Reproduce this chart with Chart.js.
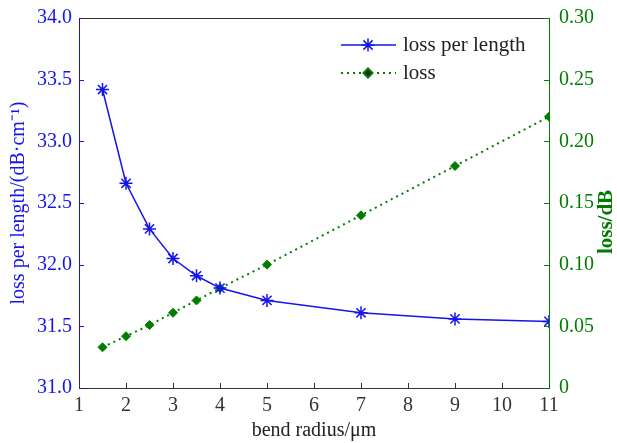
<!DOCTYPE html>
<html>
<head>
<meta charset="utf-8">
<script src="https://cdn.jsdelivr.net/npm/chart.js@4/dist/chart.umd.min.js"></script>
<style>
  html, body { margin: 0; padding: 0; background: #fff; }
  #wrap { width: 617px; height: 443px; }
</style>
</head>
<body>
<div id="wrap"><canvas id="bend-chart"></canvas></div>
<script>
const bendRadius = [1.5, 2, 2.5, 3, 3.5, 4, 5, 7, 9, 11]
const lossPerLength = [33.42, 32.66, 32.29, 32.05, 31.91, 31.81, 31.71, 31.61, 31.56, 31.54]
const loss = [0.033, 0.042, 0.051, 0.061, 0.071, 0.081, 0.10, 0.14, 0.18, 0.22]

const blue = 'rgb(20, 20, 235)'
const green = 'rgb(0, 125, 0)'
const serif = 'Liberation Serif'

// MATLAB style ticks pointing into the plot, plus the top edge of the box
const inwardTicks = {
  id: 'inwardTicks',
  afterDraw(chart) {
    const {ctx, chartArea, scales} = chart
    const {left, right, top, bottom} = chartArea
    ctx.save()
    ctx.lineWidth = 1

    ctx.strokeStyle = '#333'
    ctx.beginPath()
    ctx.moveTo(left, top + 0.5)
    ctx.lineTo(right, top + 0.5)
    scales.x.ticks.forEach(t => {
      const px = Math.round(scales.x.getPixelForValue(t.value)) + 0.5
      ctx.moveTo(px, bottom)
      ctx.lineTo(px, bottom - 5)
    })
    ctx.stroke()

    ctx.strokeStyle = blue
    ctx.beginPath()
    scales.y.ticks.forEach(t => {
      const py = Math.round(scales.y.getPixelForValue(t.value)) + 0.5
      ctx.moveTo(left, py)
      ctx.lineTo(left + 5, py)
    })
    ctx.stroke()

    ctx.strokeStyle = green
    ctx.beginPath()
    scales.y1.ticks.forEach(t => {
      const py = Math.round(scales.y1.getPixelForValue(t.value)) + 0.5
      ctx.moveTo(right, py)
      ctx.lineTo(right - 5, py)
    })
    ctx.stroke()

    // right axis title, reading bottom to top like the left one
    ctx.fillStyle = green
    ctx.font = `bold 21px ${serif}`
    ctx.textAlign = 'center'
    ctx.textBaseline = 'middle'
    ctx.translate(607, 222)
    ctx.rotate(-Math.PI / 2)
    ctx.fillText('loss/dB', 0, 0)
    ctx.restore()
  }
}

// legend in the upper right corner of the plot
const cornerLegend = {
  id: 'cornerLegend',
  afterDraw(chart) {
    const {ctx} = chart
    ctx.save()
    chart.data.datasets.forEach((ds, i) => {
      const y = 45 + i * 28
      ctx.strokeStyle = ds.borderColor
      ctx.lineWidth = ds.borderWidth
      ctx.setLineDash(ds.borderDash || [])
      ctx.beginPath()
      ctx.moveTo(341, y)
      ctx.lineTo(396, y)
      ctx.stroke()
      ctx.setLineDash([])
      Chart.helpers.drawPoint(ctx, {
        pointStyle: ds.pointStyle,
        radius: ds.pointRadius,
        borderWidth: ds.pointBorderWidth
      }, 368, y)
      ctx.fillStyle = '#222'
      ctx.font = `21px ${serif}`
      ctx.textAlign = 'left'
      ctx.textBaseline = 'middle'
      ctx.fillText(ds.label, 403, y)
    })
    ctx.restore()
  }
}

const ctx = document.getElementById('bend-chart')

const bendChart = new Chart(ctx, {
  type: 'line',
  data: {
    datasets: [{
      label: 'loss per length',
      data: bendRadius.map((r, i) => ({x: r, y: lossPerLength[i]})),
      yAxisID: 'y',
      borderColor: blue,
      backgroundColor: blue,
      borderWidth: 1.5,
      pointStyle: 'star',
      pointRadius: 6.5,
      pointBorderWidth: 1.5,
      pointBorderColor: blue,
      tension: 0
    }, {
      label: 'loss',
      data: bendRadius.map((r, i) => ({x: r, y: loss[i]})),
      yAxisID: 'y1',
      borderColor: green,
      backgroundColor: green,
      borderWidth: 2,
      borderDash: [2, 4],
      pointStyle: 'rectRot',
      pointRadius: 4.5,
      pointBorderWidth: 1,
      pointBackgroundColor: green,
      pointBorderColor: green,
      tension: 0
    }]
  },
  options: {
    responsive: true,
    maintainAspectRatio: false,
    animation: false,
    layout: { padding: { top: 18, left: 0, right: 0, bottom: 0 } },
    plugins: {
      legend: { display: false },
      tooltip: { enabled: false }
    },
    scales: {
      x: {
        type: 'linear',
        min: 1,
        max: 11,
        ticks: { stepSize: 1, color: '#333', font: { size: 20, family: serif }, padding: -2, maxRotation: 0 },
        grid: { display: false },
        border: { display: true, color: '#333' },
        title: { display: true, text: 'bend radius/μm', color: '#222', font: { size: 20, family: serif }, padding: 0 },
        afterFit(scale) { scale.height = 55 }
      },
      y: {
        position: 'left',
        min: 31,
        max: 34,
        ticks: { stepSize: 0.5, color: blue, font: { size: 20, family: serif }, padding: -1,
          callback: (v) => v.toFixed(1) },
        grid: { display: false },
        border: { display: true, color: blue },
        title: { display: true, text: 'loss per length/(dB·cm⁻¹)', color: blue, font: { size: 20, family: serif }, padding: { top: 7, bottom: 0 } },
        afterFit(scale) { scale.width = 79 }
      },
      y1: {
        position: 'right',
        min: 0,
        max: 0.3,
        ticks: { stepSize: 0.05, color: green, font: { size: 20, family: serif }, padding: 2,
          callback: (v) => v === 0 ? '0' : v.toFixed(2) },
        grid: { display: false },
        border: { display: true, color: green },
        afterFit(scale) { scale.width = 68 }
      }
    }
  },
  plugins: [inwardTicks, cornerLegend]
})
</script>
</body>
</html>
